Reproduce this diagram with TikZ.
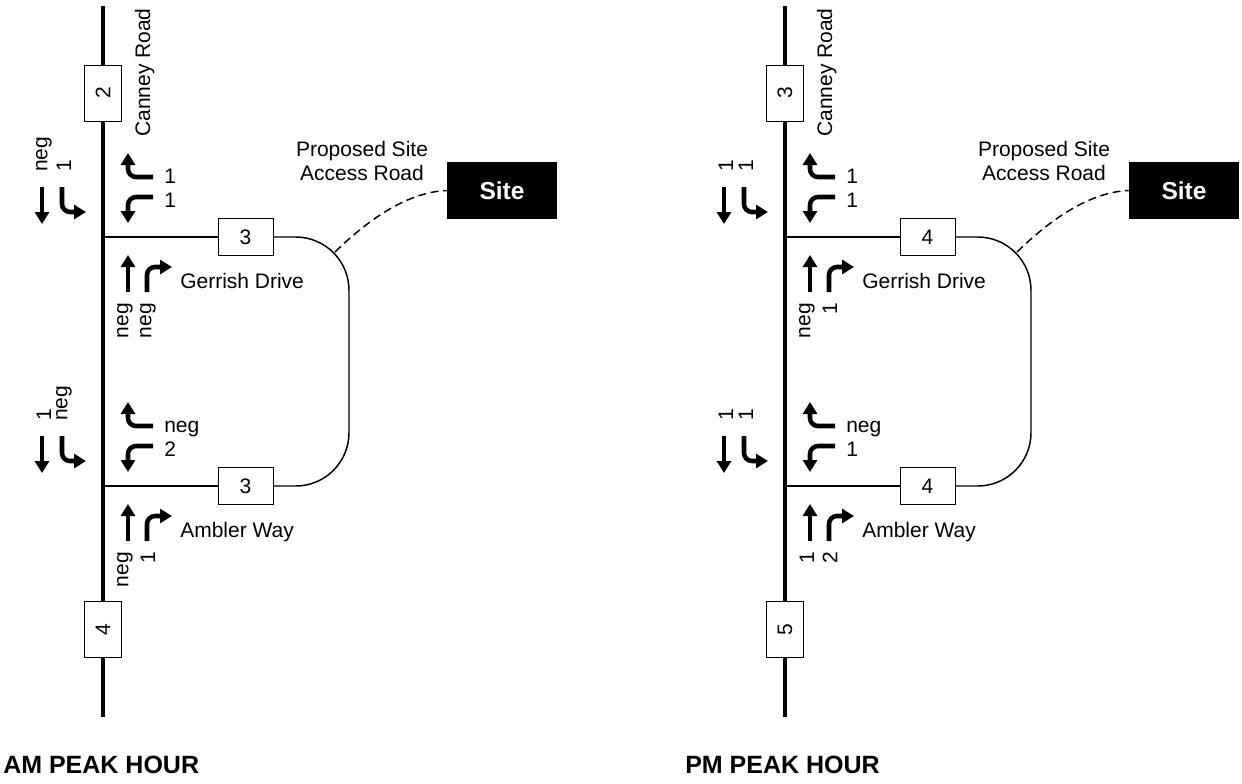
\documentclass[tikz,border=0pt]{standalone}
\usepackage{fontspec}
\setmainfont{Liberation Sans}
\usetikzlibrary{arrows.meta}
\tikzset{
  road/.style={line width=2.5pt},
  minor/.style={line width=1.1pt},
  lbl/.style={inner sep=0pt, font=\fontsize{15.75pt}{18pt}\selectfont},
  rl/.style={lbl, rotate=90},
  vbox/.style={lbl, draw, fill=white, line width=0.75pt, minimum width=27.75pt, minimum height=42pt},
  hbox/.style={lbl, draw, fill=white, line width=0.75pt, minimum width=41.25pt, minimum height=27.75pt},
  sitebox/.style={fill=black, text=white, inner sep=0pt, minimum width=82.5pt, minimum height=42.75pt, font=\fontsize{18.4pt}{20pt}\selectfont\bfseries},
  titletext/.style={inner sep=0pt, font=\fontsize{18.75pt}{21pt}\selectfont\bfseries},
  mv/.style={line width=3.4pt, rounded corners=6pt, -{Triangle[length=9pt,width=10.5pt]}},
  accessroad/.style={line width=1.1pt, dash pattern=on 6pt off 3.5pt}
}
\newcommand\peakbase[5]{%
  \coordinate (#1top) at (103,6);
  \coordinate (#1bot) at (103,717);
  \node[vbox] (#1nb) at (103,93) {\rotatebox{90}{#2}};
  \node[vbox] (#1sb) at (103,629.5) {\rotatebox{90}{#4}};
  \draw[road] (#1top) -- (#1nb.north);
  \draw[road] (#1nb.south) -- (#1sb.north);
  \draw[road] (#1sb.south) -- (#1bot);
  \coordinate (#1ja) at (103,237);
  \coordinate (#1jb) at (103,486);
  \node[hbox] (#1ba) at (245.5,237) {#3};
  \node[hbox] (#1bb) at (245.5,486) {#3};
  \draw[minor] (#1ja) -- (#1ba.west);
  \draw[minor] (#1jb) -- (#1bb.west);
  \draw[minor, rounded corners=40pt] (#1ba.east) -- (349,237) -- (349,486) -- (#1bb.east);
  \coordinate (#1acc) at (335,252);
  \node[sitebox] (#1site) at (502,190.5) {Site};
  \draw[accessroad] (#1acc) .. controls (372,216) and (410,192) .. (#1site.west);
  \node[lbl, align=center] (#1prop) at (362,161.3) {Proposed Site\\Access Road};
  \node[rl, anchor=base west] (#1road) at (150,137) {Canney Road};
  \node[titletext, anchor=base west] (#1title) at (3,773) {#5};
}
\newcommand\movegroup[8]{%
  \draw[mv] (42,187) -- (42,224);
  \draw[mv] (62,187) -- (62,212) -- (86,212);
  \draw[mv] (153,177) -- (128,177) -- (128,153);
  \draw[mv] (153,197) -- (128,197) -- (128,223);
  \draw[mv] (128,292) -- (128,255);
  \draw[mv] (147,292) -- (147,267) -- (172,267);
  \node[rl, anchor=west] (#1l1) at (44,172) {#2};
  \node[rl, anchor=west] (#1l2) at (64,172) {#3};
  \node[lbl, anchor=base west] (#1e1) at (164,183) {#4};
  \node[lbl, anchor=base west] (#1e2) at (164,207) {#5};
  \node[rl, anchor=east] (#1b1) at (125,303) {#6};
  \node[rl, anchor=east] (#1b2) at (148,303) {#7};
  \node[lbl, anchor=base west] (#1s) at (180,288) {#8};
}
\begin{document}
\begin{tikzpicture}[x=0.75pt, y=-0.75pt]
\useasboundingbox (0,0) rectangle (1242,783);
% AM
\begin{scope}
  \peakbase{am}{2}{3}{4}{AM PEAK HOUR}
  \movegroup{amA}{neg}{1}{1}{1}{neg}{neg}{Gerrish Drive}
  \begin{scope}[yshift=-186.75pt]
    \movegroup{amB}{1}{neg}{neg}{2}{neg}{1}{Ambler Way}
  \end{scope}
\end{scope}
% PM
\begin{scope}[xshift=511.5pt]
  \peakbase{pm}{3}{4}{5}{PM PEAK HOUR}
  \movegroup{pmA}{1}{1}{1}{1}{neg}{1}{Gerrish Drive}
  \begin{scope}[yshift=-186.75pt]
    \movegroup{pmB}{1}{1}{neg}{1}{1}{2}{Ambler Way}
  \end{scope}
\end{scope}
\end{tikzpicture}
\end{document}
